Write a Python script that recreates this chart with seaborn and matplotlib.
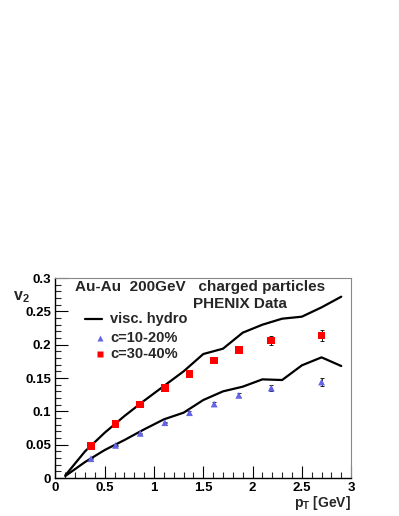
import matplotlib
matplotlib.use("Agg")
import matplotlib.pyplot as plt
import seaborn as sns
import numpy as np
import pandas as pd
from matplotlib.ticker import MultipleLocator

# hydro curves
hydro_pt = [0.1, 0.3, 0.5, 0.7, 0.9, 1.1, 1.3, 1.5, 1.7, 1.9, 2.1, 2.3, 2.5, 2.7, 2.9]
hydro_c30 = [0.004, 0.040, 0.068, 0.093, 0.116, 0.138, 0.160, 0.186, 0.194, 0.218, 0.230, 0.239, 0.242, 0.256, 0.272]
hydro_c10 = [0.003, 0.024, 0.042, 0.057, 0.073, 0.088, 0.098, 0.117, 0.130, 0.137, 0.148, 0.147, 0.169, 0.181, 0.168]

# PHENIX data
data_pt = [0.36, 0.61, 0.86, 1.11, 1.36, 1.61, 1.86, 2.19, 2.70]
v2_c10 = [0.029, 0.049, 0.067, 0.083, 0.098, 0.111, 0.124, 0.135, 0.144]
err_c10 = [0.001, 0.001, 0.001, 0.001, 0.002, 0.003, 0.003, 0.004, 0.006]
v2_c30 = [0.048, 0.081, 0.110, 0.135, 0.156, 0.176, 0.192, 0.206, 0.214]
err_c30 = [0.002, 0.002, 0.002, 0.002, 0.003, 0.004, 0.005, 0.007, 0.008]

sns.set_style("white")
plt.rcParams['font.family'] = ['Liberation Sans', 'DejaVu Sans']
plt.rcParams['font.weight'] = 'bold'
plt.rcParams['mathtext.fontset'] = 'custom'
plt.rcParams['mathtext.rm'] = 'Liberation Sans:bold'
plt.rcParams['mathtext.it'] = 'Liberation Sans:bold'
plt.rcParams['mathtext.bf'] = 'Liberation Sans:bold'

fig = plt.figure(figsize=(3.99, 5.16), dpi=100)
ax = fig.add_axes([0.139, 0.0736, 0.741, 0.3876])

hyd = pd.DataFrame({"pt": hydro_pt * 2,
                    "v2": hydro_c30 + hydro_c10,
                    "c": ["30"] * len(hydro_pt) + ["10"] * len(hydro_pt)})
sns.lineplot(data=hyd, x="pt", y="v2", units="c", estimator=None,
             color="black", lw=1.6, ax=ax, legend=False)

ax.errorbar(data_pt, v2_c10, yerr=err_c10, fmt="none", ecolor="black",
            elinewidth=0.6, capsize=1.2, capthick=0.6, zorder=3)
ax.errorbar(data_pt, v2_c30, yerr=err_c30, fmt="none", ecolor="black",
            elinewidth=0.6, capsize=1.2, capthick=0.6, zorder=3)
sns.scatterplot(x=data_pt, y=v2_c10, marker="^", s=24, color="#6464e6",
                edgecolor="none", ax=ax, zorder=4)
sns.scatterplot(x=data_pt, y=v2_c30, marker="s", s=30, color="#ff0000",
                edgecolor="none", ax=ax, zorder=4)

ax.set_xlim(0, 3)
ax.set_ylim(0, 0.3)
ax.xaxis.set_major_locator(MultipleLocator(0.5))
ax.xaxis.set_minor_locator(MultipleLocator(0.1))
ax.yaxis.set_major_locator(MultipleLocator(0.05))
ax.yaxis.set_minor_locator(MultipleLocator(0.01))
ax.set_xticks([0, 0.5, 1, 1.5, 2, 2.5, 3])
ax.set_xticklabels(["0", "0.5", "1", "1.5", "2", "2.5", "3"])
ax.set_yticks([0, 0.05, 0.1, 0.15, 0.2, 0.25, 0.3])
ax.set_yticklabels(["0", "0.05", "0.1", "0.15", "0.2", "0.25", "0.3"])
ax.tick_params(which="major", direction="in", length=9, width=0.8,
               labelsize=9.5, pad=3, colors="black")
ax.tick_params(which="minor", direction="in", length=4.5, width=0.8)
ax.tick_params(axis="x", which="both", top=False, bottom=True)
ax.tick_params(axis="y", which="both", left=True, right=False)
for lab in ax.get_xticklabels() + ax.get_yticklabels():
    lab.set_fontweight("bold")
for s in ["left", "bottom"]:
    ax.spines[s].set_color("black")
    ax.spines[s].set_linewidth(1.0)
for s in ["top", "right"]:
    ax.spines[s].set_color("#888888")
    ax.spines[s].set_linewidth(0.8)
ax.set_xlabel("")
ax.set_ylabel("")

fig.text(0.187, 0.443, "Au-Au  200GeV   charged particles", fontsize=11,
         fontweight="bold", ha="left", va="center")
fig.text(0.484, 0.411, "PHENIX Data", fontsize=11, fontweight="bold",
         ha="left", va="center")
fig.text(0.033, 0.424, r"$\mathbf{v_2}$", fontsize=11.5, ha="left", va="center")
fig.text(0.880, 0.026, r"$\mathbf{p_T}$ [GeV]", fontsize=10, fontweight="bold",
         ha="right", va="center")

# legend
lx0, lx1 = 0.213, 0.256
ly = [0.381, 0.345, 0.314]
fig.add_artist(plt.Line2D([lx0, lx1], [ly[0], ly[0]], color="black", lw=1.6,
                          transform=fig.transFigure))
fig.add_artist(plt.Line2D([0.25], [ly[1]], marker="^", ms=4.5,
                          color="#6464e6", mec="none", transform=fig.transFigure))
fig.add_artist(plt.Line2D([0.25], [ly[2]], marker="s", ms=5,
                          color="#ff0000", mec="none", transform=fig.transFigure))
for yy, txt in zip(ly, ["visc. hydro", "c=10-20%", "c=30-40%"]):
    fig.text(0.276, yy, txt, fontsize=10.5, fontweight="bold", ha="left",
             va="center")

fig.savefig("out.png", dpi=100)
